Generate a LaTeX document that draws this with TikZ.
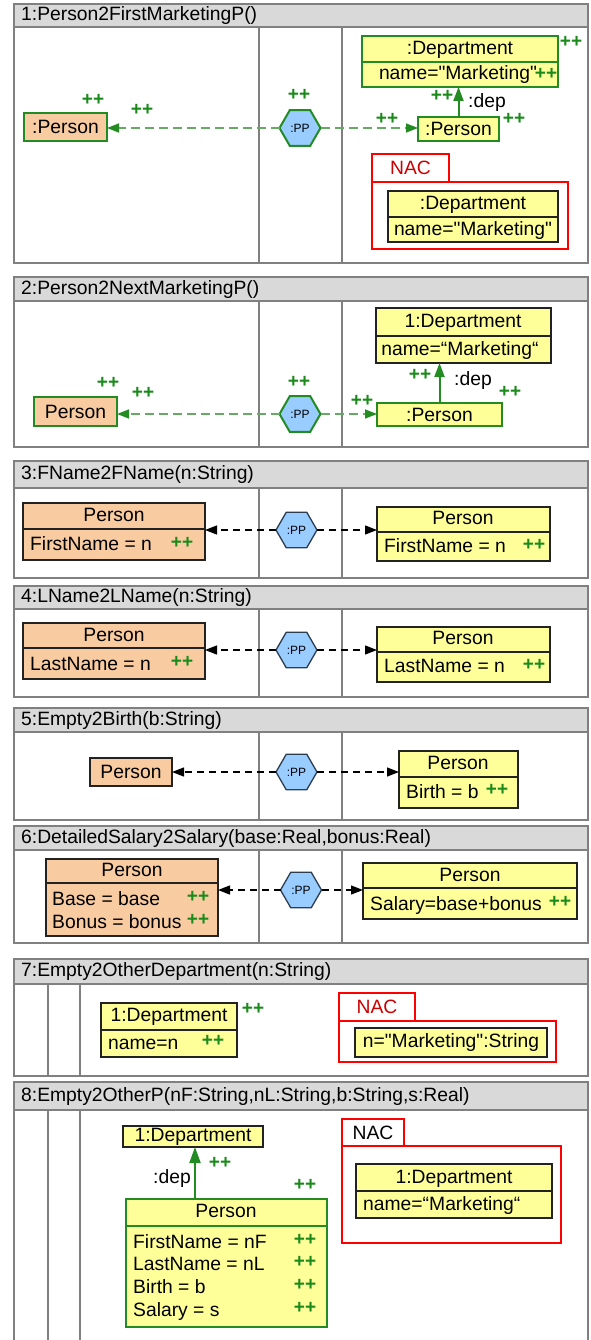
\documentclass[tikz,border=0pt]{standalone}
\usepackage{fontspec}
\setmainfont{Liberation Sans}[Ligatures=TeXOff]
\usetikzlibrary{arrows.meta,shapes.geometric}

\definecolor{framegray}{HTML}{808080}
\definecolor{hdrgray}{HTML}{D9D9D9}
\definecolor{srcorange}{HTML}{F8CBA0}
\definecolor{tgtyellow}{HTML}{FFFF99}
\definecolor{ppblue}{HTML}{99CCFF}
\definecolor{grn}{HTML}{228B22}
\definecolor{dashgreen}{HTML}{66AA66}
\definecolor{plusgreen}{HTML}{1A8A1A}
\definecolor{nacred}{HTML}{FF0000}
\definecolor{nactext}{HTML}{CC0000}
\definecolor{boxline}{HTML}{222222}
\definecolor{hexline}{HTML}{2C3E50}

\begin{document}
\begin{tikzpicture}[x=1pt,y=-1pt,
  frame/.style={draw=framegray,line width=2pt},
  title/.style={anchor=mid west,inner sep=0pt,yshift=-2.5pt,font=\fontsize{19.3}{22}\selectfont},
  lbl/.style={inner sep=0pt,anchor=mid,yshift=-2.5pt,font=\fontsize{19.3}{22}\selectfont},
  lblw/.style={lbl,anchor=mid west},
  plus/.style={inner sep=0pt,anchor=mid,text=plusgreen,font=\bfseries\fontsize{19}{20}\selectfont},
  objbox/.style={draw=boxline,line width=1.4pt,anchor=north west,inner sep=0pt,outer sep=0pt,font=\fontsize{19.3}{22}\selectfont},
  src/.style={objbox,fill=srcorange},
  tgt/.style={objbox,fill=tgtyellow},
  created/.style={draw=grn,line width=2pt},
  pp/.style={regular polygon,regular polygon sides=6,minimum size=41pt,inner sep=0pt,outer sep=0pt,
             fill=ppblue,draw=hexline,line width=1.3pt,font=\fontsize{12}{14}\selectfont},
  ppnew/.style={pp,draw=grn,line width=2pt},
  nacbox/.style={draw=nacred,line width=2pt,fill=white,anchor=north west,inner sep=0pt,outer sep=0pt,
                 font=\fontsize{19.3}{22}\selectfont},
  corr/.style={draw=black,dash pattern=on 7pt off 5pt,line width=1.3pt,-{Triangle[length=12pt,width=9pt]}},
  corrnew/.style={draw=dashgreen,dash pattern=on 9pt off 5pt,line width=1.6pt,
                  -{Triangle[length=12pt,width=9pt,color=grn]}},
  link/.style={draw=grn,line width=2pt,-{Triangle[length=14pt,width=10pt]}}
]
\useasboundingbox (0,0) rectangle (590,1340);
\fill[white] (0,0) rectangle (590,1340);

% ---------- rule 1 ----------
\fill[hdrgray] (14,4) rectangle (588,27);
\draw[frame] (14,4) rectangle (588,263);
\draw[frame] (14,27) -- (588,27) (259,27) -- (259,263) (342,27) -- (342,263);
\node[title] (h1) at (21,15.5) {1:Person2FirstMarketingP()};

\node[src,created,minimum width=83pt,minimum height=28pt] (p1src) at (24,113) {:Person};
\node[plus] (p1srcA) at (93,103) {++};
\node[ppnew] (p1hex) at (300,128) {:PP};
\node[plus] (p1hexA) at (299,98) {++};
\draw[corrnew] (p1hex.west) -- (p1src.east |- p1hex.west);
\node[plus] (p1lA) at (142,113) {++};

\node[tgt,created,minimum width=196pt,minimum height=51pt] (p1dep) at (362,36) {};
\draw[grn,line width=2pt] ([yshift=-26pt]p1dep.north west) -- ([yshift=-26pt]p1dep.north east);
\node[lbl] (p1depT) at (460,49) {:Department};
\node[lbl] (p1depN) at (458,74) {name="Marketing"};
\node[plus] (p1depA) at (571,45) {++};
\node[plus] (p1depB) at (546,77) {++};
\node[tgt,created,minimum width=81pt,minimum height=24pt] (p1tgt) at (418,117) {:Person};
\node[plus] (p1tgtA) at (514,122) {++};
\draw[link] (p1tgt.north) -- (p1dep.south -| p1tgt.north);
\node[plus] (p1linkA) at (442,99) {++};
\node[lbl] (p1dep2) at (487,102) {:dep};
\draw[corrnew] (p1hex.east) -- (p1tgt.west |- p1hex.east);
\node[plus] (p1rA) at (387,122) {++};

\node[nacbox,minimum width=77pt,minimum height=28pt,text=nactext] (p1tab) at (372,154) {NAC};
\node[nacbox,minimum width=196pt,minimum height=67pt] (p1nac) at (372,182) {};
\node[tgt,minimum width=170pt,minimum height=51pt] (p1nd) at (388,191) {};
\draw[boxline,line width=1.4pt] ([yshift=-26pt]p1nd.north west) -- ([yshift=-26pt]p1nd.north east);
\node[lbl] (p1ndT) at (473,204) {:Department};
\node[lbl] (p1ndN) at (473,230) {name="Marketing"};

% ---------- rule 2 ----------
\fill[hdrgray] (14,277) rectangle (588,301);
\draw[frame] (14,277) rectangle (588,447);
\draw[frame] (14,301) -- (588,301) (259,301) -- (259,447) (342,301) -- (342,447);
\node[title] (h2) at (21,289) {2:Person2NextMarketingP()};

\node[src,created,minimum width=83pt,minimum height=29pt] (p2src) at (34,397) {Person};
\node[plus] (p2srcA) at (108,386) {++};
\node[ppnew] (p2hex) at (300,414) {:PP};
\node[plus] (p2hexA) at (299,385) {++};
\draw[corrnew] (p2hex.west) -- (p2src.east |- p2hex.west);
\node[plus] (p2lA) at (143,396) {++};

\node[tgt,minimum width=175pt,minimum height=55pt] (p2dep) at (376,308) {};
\draw[boxline,line width=1.4pt] ([yshift=-28pt]p2dep.north west) -- ([yshift=-28pt]p2dep.north east);
\node[lbl] (p2depT) at (463,322) {1:Department};
\node[lbl] (p2depN) at (460,350) {name=“Marketing“};
\node[tgt,created,minimum width=125pt,minimum height=23pt] (p2tgt) at (377,403) {:Person};
\draw[link] (p2tgt.north) -- (p2dep.south -| p2tgt.north);
\node[plus] (p2linkA) at (420,378) {++};
\node[lbl] (p2dep2) at (473,380) {:dep};
\node[plus] (p2tgtA) at (510,395) {++};
\draw[corrnew] (p2hex.east) -- (p2tgt.west |- p2hex.east);
\node[plus] (p2rA) at (362,404) {++};

% ---------- rule 3 ----------
\fill[hdrgray] (14,461) rectangle (588,488);
\draw[frame] (14,461) rectangle (588,578);
\draw[frame] (14,488) -- (588,488) (259,488) -- (259,578) (342,488) -- (342,578);
\node[title] (h3) at (21,474) {3:FName2FName(n:String)};

\node[src,minimum width=182pt,minimum height=57pt] (p3src) at (23,503) {};
\draw[boxline,line width=1.4pt] ([yshift=-26pt]p3src.north west) -- ([yshift=-26pt]p3src.north east);
\node[lbl] (p3srcT) at (114,516) {Person};
\node[lblw] (p3srcN) at (30,545) {FirstName = n};
\node[plus] (p3srcA) at (182,546) {++};
\node[pp] (p3hex) at (296.5,530) {:PP};
\node[tgt,minimum width=173pt,minimum height=54pt] (p3tgt) at (377,507) {};
\draw[boxline,line width=1.4pt] ([yshift=-25pt]p3tgt.north west) -- ([yshift=-25pt]p3tgt.north east);
\node[lbl] (p3tgtT) at (463,519) {Person};
\node[lblw] (p3tgtN) at (384,547) {FirstName = n};
\node[plus] (p3tgtA) at (534,548) {++};
\draw[corr] (p3hex.west) -- (p3src.east |- p3hex.west);
\draw[corr] (p3hex.east) -- (p3tgt.west |- p3hex.east);

% ---------- rule 4 ----------
\fill[hdrgray] (14,586) rectangle (588,609);
\draw[frame] (14,586) rectangle (588,697);
\draw[frame] (14,609) -- (588,609) (259,609) -- (259,697) (342,609) -- (342,697);
\node[title] (h4) at (21,597.5) {4:LName2LName(n:String)};

\node[src,minimum width=182pt,minimum height=56pt] (p4src) at (23,623) {};
\draw[boxline,line width=1.4pt] ([yshift=-25pt]p4src.north west) -- ([yshift=-25pt]p4src.north east);
\node[lbl] (p4srcT) at (114,636) {Person};
\node[lblw] (p4srcN) at (30,665) {LastName = n};
\node[plus] (p4srcA) at (182,665) {++};
\node[pp] (p4hex) at (296.5,650) {:PP};
\node[tgt,minimum width=173pt,minimum height=55pt] (p4tgt) at (377,627) {};
\draw[boxline,line width=1.4pt] ([yshift=-25pt]p4tgt.north west) -- ([yshift=-25pt]p4tgt.north east);
\node[lbl] (p4tgtT) at (463,639) {Person};
\node[lblw] (p4tgtN) at (384,667) {LastName = n};
\node[plus] (p4tgtA) at (534,668) {++};
\draw[corr] (p4hex.west) -- (p4src.east |- p4hex.west);
\draw[corr] (p4hex.east) -- (p4tgt.west |- p4hex.east);

% ---------- rule 5 ----------
\fill[hdrgray] (14,708) rectangle (588,732);
\draw[frame] (14,708) rectangle (588,820);
\draw[frame] (14,732) -- (588,732) (259,732) -- (259,820) (342,732) -- (342,820);
\node[title] (h5) at (21,720) {5:Empty2Birth(b:String)};

\node[src,minimum width=82pt,minimum height=28pt] (p5src) at (90,758) {Person};
\node[pp] (p5hex) at (296.5,772) {:PP};
\node[tgt,minimum width=119pt,minimum height=57pt] (p5tgt) at (399,751) {};
\draw[boxline,line width=1.4pt] ([yshift=-26pt]p5tgt.north west) -- ([yshift=-26pt]p5tgt.north east);
\node[lbl] (p5tgtT) at (458,764) {Person};
\node[lblw] (p5tgtN) at (406,793) {Birth = b};
\node[plus] (p5tgtA) at (497,793) {++};
\draw[corr] (p5hex.west) -- (p5src.east |- p5hex.west);
\draw[corr] (p5hex.east) -- (p5tgt.west |- p5hex.east);

% ---------- rule 6 ----------
\fill[hdrgray] (14,826) rectangle (588,850);
\draw[frame] (14,826) rectangle (588,943);
\draw[frame] (14,850) -- (588,850) (259,850) -- (259,943) (342,850) -- (342,943);
\node[title] (h6) at (21,838) {6:DetailedSalary2Salary(base:Real,bonus:Real)};

\node[src,minimum width=172pt,minimum height=77pt] (p6src) at (46,859) {};
\draw[boxline,line width=1.4pt] ([yshift=-24pt]p6src.north west) -- ([yshift=-24pt]p6src.north east);
\node[lbl] (p6srcT) at (132,871) {Person};
\node[lblw] (p6srcN) at (52,900) {Base = base};
\node[lblw] (p6srcM) at (52,923) {Bonus = bonus};
\node[plus] (p6srcA) at (198,900) {++};
\node[plus] (p6srcB) at (198,923) {++};
\node[pp] (p6hex) at (301,890) {:PP};
\node[tgt,minimum width=214pt,minimum height=56pt] (p6tgt) at (363,863) {};
\draw[boxline,line width=1.4pt] ([yshift=-25pt]p6tgt.north west) -- ([yshift=-25pt]p6tgt.north east);
\node[lbl] (p6tgtT) at (470,876) {Person};
\node[lblw] (p6tgtN) at (370,905) {Salary=base+bonus};
\node[plus] (p6tgtA) at (560,905) {++};
\draw[corr] (p6hex.west) -- (p6src.east |- p6hex.west);
\draw[corr] (p6hex.east) -- (p6tgt.west |- p6hex.east);

% ---------- rule 7 ----------
\fill[hdrgray] (14,959) rectangle (588,984);
\draw[frame] (14,959) rectangle (588,1076);
\draw[frame] (14,984) -- (588,984) (48,984) -- (48,1076) (80,984) -- (80,1076);
\node[title] (h7) at (21,971.5) {7:Empty2OtherDepartment(n:String)};

\node[tgt,minimum width=136pt,minimum height=54pt] (p7dep) at (101,1003) {};
\draw[boxline,line width=1.4pt] ([yshift=-27pt]p7dep.north west) -- ([yshift=-27pt]p7dep.north east);
\node[lbl] (p7depT) at (169,1016) {1:Department};
\node[lblw] (p7depN) at (108,1044) {name=n};
\node[plus] (p7depA) at (213,1044) {++};
\node[plus] (p7depB) at (253,1012) {++};
\node[nacbox,minimum width=76pt,minimum height=28pt,text=nactext] (p7tab) at (339,993) {NAC};
\node[nacbox,minimum width=217pt,minimum height=41pt] (p7nac) at (339,1021) {};
\node[tgt,minimum width=192pt,minimum height=29pt] (p7val) at (355,1028) {n="Marketing":String};

% ---------- rule 8 ----------
\fill[hdrgray] (14,1082) rectangle (588,1110);
\draw[frame] (14,1340) -- (14,1082) -- (588,1082) -- (588,1340);
\draw[frame] (14,1110) -- (588,1110) (48,1110) -- (48,1340) (80,1110) -- (80,1340);
\node[title] (h8) at (21,1096) {8:Empty2OtherP(nF:String,nL:String,b:String,s:Real)};

\node[tgt,minimum width=140pt,minimum height=21pt] (p8dep) at (123,1126) {1:Department};
\node[tgt,created,minimum width=201pt,minimum height=128pt] (p8per) at (126,1199) {};
\draw[grn,line width=2pt] ([yshift=-27pt]p8per.north west) -- ([yshift=-27pt]p8per.north east);
\node[lbl] (p8perT) at (226,1212) {Person};
\node[lblw] (p8perF) at (133,1243) {FirstName = nF};
\node[lblw] (p8perL) at (133,1265) {LastName = nL};
\node[lblw] (p8perB) at (133,1288) {Birth = b};
\node[lblw] (p8perS) at (133,1311) {Salary = s};
\node[plus] (p8perFA) at (305,1243) {++};
\node[plus] (p8perLA) at (305,1265) {++};
\node[plus] (p8perBA) at (305,1288) {++};
\node[plus] (p8perSA) at (305,1311) {++};
\node[plus] (p8perA) at (305,1188) {++};
\coordinate (p8foot) at (195,1199);
\draw[link,-{Triangle[length=16pt,width=11pt]}] (p8foot) -- (p8dep.south -| p8foot);
\node[lbl] (p8dep2) at (172,1178) {:dep};
\node[plus] (p8linkA) at (220,1166) {++};

\node[nacbox,minimum width=62pt,minimum height=27pt] (p8tab) at (342,1119) {NAC};
\node[nacbox,minimum width=219pt,minimum height=97pt] (p8nac) at (342,1146) {};
\node[tgt,minimum width=196pt,minimum height=54pt] (p8nd) at (356,1164) {};
\draw[boxline,line width=1.4pt] ([yshift=-27pt]p8nd.north west) -- ([yshift=-27pt]p8nd.north east);
\node[lbl] (p8ndT) at (454,1178) {1:Department};
\node[lblw] (p8ndN) at (363,1205) {name=“Marketing“};
\end{tikzpicture}
\end{document}
